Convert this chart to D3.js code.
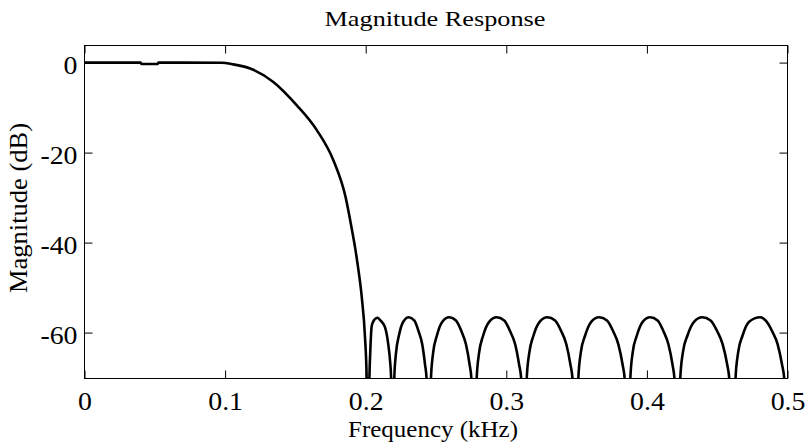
<!DOCTYPE html>
<html>
<head>
<meta charset="utf-8">
<script src="https://cdn.jsdelivr.net/npm/d3@7"></script>
<style>
  body { margin: 0; background: #fff; }
  text { font-family: "Liberation Serif", "Times New Roman", serif; fill: #000; }
</style>
</head>
<body>
<svg id="chart" width="807" height="447"></svg>
<script>
// frequency in kHz, magnitude in dB
const passband = [
  [0, 0], [0.0400, 0], [0.0405, -0.3], [0.0520, -0.3], [0.0525, 0], [0.0977, -0.05],
  [0.1050, -0.35], [0.1178, -1.3], [0.1343, -4.3], [0.1510, -9.5], [0.1652, -15],
  [0.1770, -21.7], [0.1857, -29.9], [0.1903, -37.3], [0.1924, -41], [0.1942, -44.7],
  [0.1972, -52.1], [0.1995, -61], [0.2007, -70.3], [0.2015, -90]
];
const stopband = [
  [0.2026, -70.3], [0.2034, -63], [0.2043, -58.5], [0.2060, -57.2], [0.2083, -56.7], [0.2105, -57.3],
  [0.2137, -58.8], [0.2160, -62.5], [0.2173, -66.2], [0.2181, -70.3], [0.2190, -90],
  [0.2203, -70.3], [0.2216, -64.4], [0.2236, -60.7], [0.2267, -57.6], [0.2306, -56.6], [0.2345, -57.3],
  [0.2376, -59.7], [0.2402, -62.6], [0.2422, -67.1], [0.2433, -70.3], [0.2448, -90],
  [0.2464, -70.3], [0.2480, -64.4], [0.2506, -60.7], [0.2545, -57.6], [0.2593, -56.6], [0.2642, -57.3],
  [0.2681, -59.7], [0.2713, -62.6], [0.2739, -67.1], [0.2752, -70.3], [0.2771, -90],
  [0.2789, -70.3], [0.2807, -64.4], [0.2835, -60.7], [0.2878, -57.6], [0.2931, -56.6], [0.2985, -57.3],
  [0.3027, -59.7], [0.3063, -62.6], [0.3091, -67.1], [0.3106, -70.3], [0.3127, -90],
  [0.3145, -70.3], [0.3164, -64.4], [0.3193, -60.7], [0.3237, -57.6], [0.3292, -56.6], [0.3347, -57.3],
  [0.3391, -59.7], [0.3427, -62.6], [0.3456, -67.1], [0.3471, -70.3], [0.3493, -90],
  [0.3512, -70.3], [0.3530, -64.4], [0.3560, -60.7], [0.3604, -57.6], [0.3660, -56.6], [0.3716, -57.3],
  [0.3760, -59.7], [0.3797, -62.6], [0.3827, -67.1], [0.3842, -70.3], [0.3864, -90],
  [0.3882, -70.3], [0.3899, -64.4], [0.3928, -60.7], [0.3970, -57.6], [0.4023, -56.6], [0.4076, -57.3],
  [0.4118, -59.7], [0.4153, -62.6], [0.4182, -67.1], [0.4196, -70.3], [0.4217, -90],
  [0.4237, -70.3], [0.4256, -64.4], [0.4288, -60.7], [0.4335, -57.6], [0.4394, -56.6], [0.4453, -57.3],
  [0.4500, -59.7], [0.4539, -62.6], [0.4571, -67.1], [0.4586, -70.3], [0.4610, -90],
  [0.4630, -70.3], [0.4649, -64.4], [0.4680, -60.7], [0.4727, -57.6], [0.4805, -56.6], [0.4844, -57.3],
  [0.4891, -59.7], [0.4930, -62.6], [0.4961, -67.1], [0.4977, -70.3], [0.5000, -90]
];
const response = passband.concat(stopband);

const xTicks = [0, 0.1, 0.2, 0.3, 0.4, 0.5];
const xTickLabels = ["0", "0.1", "0.2", "0.3", "0.4", "0.5"];
const yTicks = [0, -20, -40, -60];
const yTickLabels = ["0", "-20", "-40", "-60"];

const svg = d3.select("#chart");
const plot = { left: 84.5, right: 787.5, top: 45.5, bottom: 378.5 };

const x = d3.scaleLinear().domain([0, 0.5]).range([plot.left, plot.right]);
const y = d3.scaleLinear().domain([-70.2, 3.8]).range([plot.bottom, plot.top]);

// the source picture is a bit wider than the font, so stretch text along its run
const stretch = (sel, factor) => sel.each(function() {
  const len = this.getComputedTextLength();
  d3.select(this).attr("textLength", len * factor).attr("lengthAdjust", "spacingAndGlyphs");
});

svg.append("defs").append("clipPath").attr("id", "clip")
  .append("rect")
  .attr("x", plot.left).attr("y", plot.top)
  .attr("width", plot.right - plot.left).attr("height", plot.bottom - plot.top);

const tickLen = 8;

const xAxis = svg.append("g")
  .attr("transform", `translate(0,${plot.bottom})`)
  .call(d3.axisBottom(x).tickValues(xTicks).tickFormat((d, i) => xTickLabels[i])
    .tickSizeInner(-tickLen).tickSizeOuter(0).tickPadding(0));
const xAxisTop = svg.append("g")
  .attr("transform", `translate(0,${plot.top})`)
  .call(d3.axisTop(x).tickValues(xTicks).tickFormat("")
    .tickSizeInner(-tickLen).tickSizeOuter(0));
const yAxis = svg.append("g")
  .attr("transform", `translate(${plot.left},0)`)
  .call(d3.axisLeft(y).tickValues(yTicks).tickFormat((d, i) => yTickLabels[i])
    .tickSizeInner(-tickLen).tickSizeOuter(0).tickPadding(7));
const yAxisRight = svg.append("g")
  .attr("transform", `translate(${plot.right},0)`)
  .call(d3.axisRight(y).tickValues(yTicks).tickFormat("")
    .tickSizeInner(-tickLen).tickSizeOuter(0));

[xAxis, xAxisTop, yAxis, yAxisRight].forEach(g => {
  g.attr("font-family", null).attr("font-size", null);
  g.select(".domain").remove();
  g.selectAll(".tick line").attr("stroke", "#000").attr("stroke-width", 1);
});
svg.selectAll(".tick text").attr("font-size", 26).attr("fill", "#000");
xAxis.selectAll(".tick text").attr("y", 31.5).attr("dy", null);
yAxis.selectAll(".tick text").attr("dy", "0.4em");
stretch(svg.selectAll(".tick text"), 1.07);

svg.append("rect")
  .attr("x", plot.left).attr("y", plot.top)
  .attr("width", plot.right - plot.left).attr("height", plot.bottom - plot.top)
  .attr("fill", "none").attr("stroke", "#000").attr("stroke-width", 1);

const line = d3.line()
  .x(d => x(d[0]))
  .y(d => y(d[1]))
  .curve(d3.curveMonotoneX);

svg.append("path")
  .datum(response)
  .attr("clip-path", "url(#clip)")
  .attr("fill", "none")
  .attr("stroke", "#000")
  .attr("stroke-width", 2.6)
  .attr("stroke-linejoin", "round")
  .attr("d", line);

svg.append("text")
  .attr("x", 435).attr("y", 26)
  .attr("text-anchor", "middle").attr("font-size", 22)
  .attr("textLength", 221).attr("lengthAdjust", "spacingAndGlyphs")
  .text("Magnitude Response");

svg.append("text")
  .attr("x", 433).attr("y", 437)
  .attr("text-anchor", "middle").attr("font-size", 23)
  .attr("textLength", 170).attr("lengthAdjust", "spacingAndGlyphs")
  .text("Frequency (kHz)");

svg.append("text")
  .attr("transform", "translate(26.5,208) rotate(-90)")
  .attr("text-anchor", "middle").attr("font-size", 25)
  .attr("textLength", 170).attr("lengthAdjust", "spacingAndGlyphs")
  .text("Magnitude (dB)");
</script>
</body>
</html>
